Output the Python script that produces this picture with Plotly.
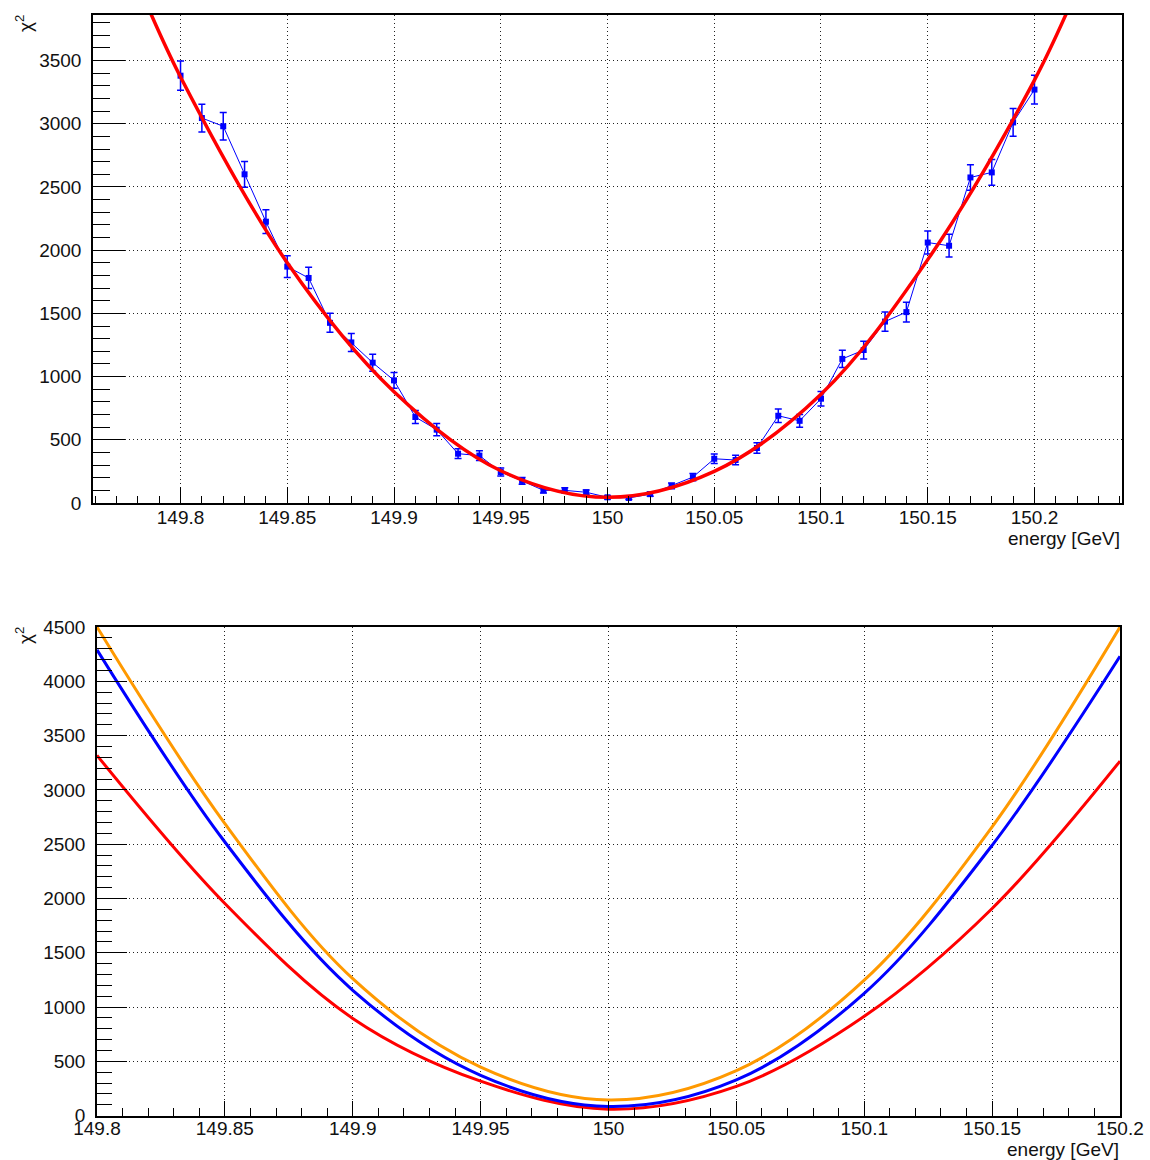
import plotly.graph_objects as go

W, H = 1150, 1160

# ---------------- data: top panel ----------------
energy_pts = [149.80, 149.81, 149.82, 149.83, 149.84, 149.85, 149.86, 149.87, 149.88, 149.89,
              149.90, 149.91, 149.92, 149.93, 149.94, 149.95, 149.96, 149.97, 149.98, 149.99,
              150.00, 150.01, 150.02, 150.03, 150.04, 150.05, 150.06, 150.07, 150.08, 150.09,
              150.10, 150.11, 150.12, 150.13, 150.14, 150.15, 150.16, 150.17, 150.18, 150.19,
              150.20]
chi2_pts = [3380, 3045, 2980, 2600, 2225, 1870, 1780, 1425, 1270, 1110,
            970, 680, 580, 390, 375, 245, 175, 100, 100, 85,
            45, 40, 70, 135, 205, 350, 340, 435, 690, 650,
            825, 1140, 1210, 1435, 1510, 2060, 2035, 2575, 2615, 3010,
            3270]
chi2_err = [116, 110, 109, 102, 94, 86, 84, 75, 71, 67,
            62, 52, 48, 39, 39, 31, 26, 20, 20, 18,
            13, 13, 17, 23, 29, 37, 37, 42, 53, 51,
            57, 68, 70, 76, 78, 91, 90, 101, 102, 110,
            114]

fit_e = [149.76, 149.78, 149.80, 149.85, 149.90, 149.95, 150.00, 150.05, 150.10, 150.15, 150.20, 150.22, 150.24]
fit_chi2 = [4830, 4100, 3370, 1900, 880, 255, 45, 250, 860, 1925, 3345, 4060, 4800]

top_xticks = [149.8, 149.85, 149.9, 149.95, 150.0, 150.05, 150.1, 150.15, 150.2]
top_xlabels = ["149.8", "149.85", "149.9", "149.95", "150", "150.05", "150.1", "150.15", "150.2"]
top_yticks = [0, 500, 1000, 1500, 2000, 2500, 3000, 3500]
top_ylabels = ["0", "500", "1000", "1500", "2000", "2500", "3000", "3500"]

# ---------------- data: bottom panel ----------------
curve_e = [149.80, 149.85, 149.90, 149.95, 150.00, 150.05, 150.10, 150.15, 150.20]
orange_chi2 = [4500, 2690, 1262, 448, 145, 415, 1248, 2660, 4500]
blue_chi2 = [4290, 2520, 1155, 372, 85, 330, 1127, 2490, 4230]
red_chi2 = [3318, 1954, 896, 318, 60, 270, 915, 1908, 3265]

bot_xticks = [149.8, 149.85, 149.9, 149.95, 150.0, 150.05, 150.1, 150.15, 150.2]
bot_xlabels = ["149.8", "149.85", "149.9", "149.95", "150", "150.05", "150.1", "150.15", "150.2"]
bot_yticks = [0, 500, 1000, 1500, 2000, 2500, 3000, 3500, 4000, 4500]
bot_ylabels = ["0", "500", "1000", "1500", "2000", "2500", "3000", "3500", "4000", "4500"]

FONT = "Liberation Sans, Arial, Helvetica, sans-serif"
FS = 19

def px(x):
    return x / W

def py(y):
    return 1 - y / H

fig = go.Figure()

# top panel
fig.add_trace(go.Scatter(
    x=energy_pts, y=chi2_pts, mode="lines+markers",
    line=dict(color="#0000ff", width=1),
    marker=dict(symbol="square", size=6, color="#0000ff"),
    error_y=dict(type="data", array=chi2_err, visible=True, color="#0000ff", thickness=1.5, width=3.5),
    xaxis="x", yaxis="y", showlegend=False, hoverinfo="skip"))
fig.add_trace(go.Scatter(
    x=fit_e, y=fit_chi2, mode="lines",
    line=dict(color="#ff0000", width=3.5, shape="spline", smoothing=1.0),
    xaxis="x", yaxis="y", showlegend=False, hoverinfo="skip"))

# bottom panel
for vals, col in [(red_chi2, "#ff0000"), (blue_chi2, "#0000ff"), (orange_chi2, "#ff9900")]:
    fig.add_trace(go.Scatter(
        x=curve_e, y=vals, mode="lines",
        line=dict(color=col, width=3, shape="spline", smoothing=1.0),
        xaxis="x2", yaxis="y2", showlegend=False, hoverinfo="skip"))

axis_common = dict(
    showline=True, linecolor="black", linewidth=1.5, mirror=True,
    showgrid=True, gridcolor="#222222", gridwidth=1, griddash="1px,3px",
    zeroline=False, ticks="inside", tickcolor="black", tickwidth=1.2,
    tickfont=dict(family=FONT, size=FS, color="#111111"),
    tickmode="array", automargin=False,
)

fig.update_layout(
    width=W, height=H,
    margin=dict(l=0, r=0, t=0, b=0),
    paper_bgcolor="white", plot_bgcolor="white",
    xaxis=dict(axis_common, domain=[px(93), px(1122)], range=[149.759, 150.241],
               tickvals=top_xticks, ticktext=top_xlabels, ticklen=16, anchor="y",
               ticklabelstandoff=-4,
               minor=dict(ticks="inside", ticklen=7, dtick=0.01, tick0=149.8, tickcolor="black", showgrid=False)),
    yaxis=dict(axis_common, domain=[py(503), py(15)], range=[0, 3860],
               tickvals=top_yticks, ticktext=top_ylabels, ticklen=32, anchor="x",
               ticklabelstandoff=6,
               minor=dict(ticks="inside", ticklen=17, dtick=100, tick0=0, tickcolor="black", showgrid=False)),
    xaxis2=dict(axis_common, domain=[px(97), px(1120)], range=[149.8, 150.2],
                tickvals=bot_xticks, ticktext=bot_xlabels, ticklen=15, anchor="y2",
                ticklabelstandoff=-5,
                minor=dict(ticks="inside", ticklen=8, dtick=0.01, tick0=149.8, tickcolor="black", showgrid=False)),
    yaxis2=dict(axis_common, domain=[py(1115.7), py(627)], range=[0, 4500],
                tickvals=bot_yticks, ticktext=bot_ylabels, ticklen=30, anchor="x2",
                ticklabelstandoff=6,
                minor=dict(ticks="inside", ticklen=15, dtick=100, tick0=0, tickcolor="black", showgrid=False)),
    annotations=[
        dict(text="energy [GeV]", x=px(1122), y=py(538), xref="paper", yref="paper",
             xanchor="right", yanchor="middle", showarrow=False,
             font=dict(family=FONT, size=FS, color="#111111")),
        dict(text="energy [GeV]", x=px(1121), y=py(1149), xref="paper", yref="paper",
             xanchor="right", yanchor="middle", showarrow=False,
             font=dict(family=FONT, size=FS, color="#111111")),
        dict(text="χ<sup>2</sup>", x=px(24), y=py(24), xref="paper", yref="paper",
             xanchor="center", yanchor="middle", showarrow=False, textangle=-90,
             font=dict(family=FONT, size=FS, color="#111111")),
        dict(text="χ<sup>2</sup>", x=px(24), y=py(636), xref="paper", yref="paper",
             xanchor="center", yanchor="middle", showarrow=False, textangle=-90,
             font=dict(family=FONT, size=FS, color="#111111")),
    ],
)

fig.write_html("out.html")
